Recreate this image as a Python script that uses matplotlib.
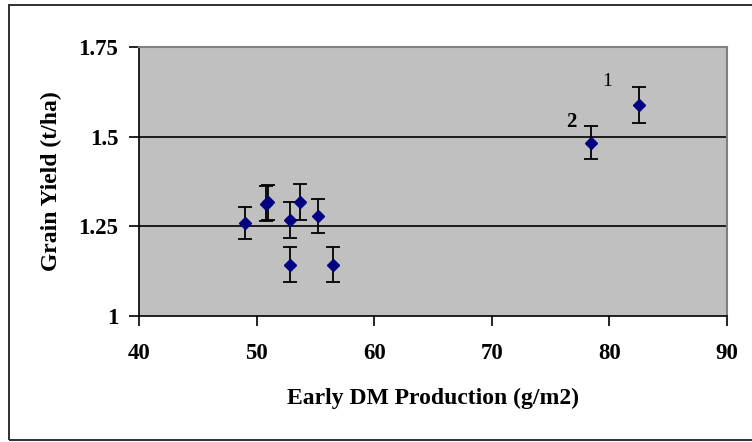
import matplotlib
matplotlib.use("Agg")
import matplotlib.pyplot as plt
from matplotlib.patches import Rectangle

# early DM production (g/m2) vs grain yield (t/ha)
dm = [49.0, 50.8, 50.95, 52.8, 53.7, 55.2, 52.8, 56.5, 78.45, 82.55]
grain = [1.258, 1.313, 1.316, 1.267, 1.318, 1.279, 1.142, 1.142, 1.483, 1.588]
err = [0.045, 0.05, 0.05, 0.049, 0.05, 0.047, 0.049, 0.049, 0.047, 0.05]

plt.rcParams['font.family'] = ['Liberation Serif', 'DejaVu Serif']

fig = plt.figure(figsize=(7.52, 4.42), dpi=100)
fig.patch.set_facecolor('white')

# outer chart frame
fig.patches.append(Rectangle((9/752, 2/442), 1.2, 435/442, transform=fig.transFigure,
                             fill=False, edgecolor='#303030', linewidth=1.4))

ax = fig.add_axes([139.3/752, 1 - 315.7/442, 587.4/752, 268.7/442])
ax.set_facecolor('#c0c0c0')

for yv in [1.25, 1.5]:
    ax.axhline(yv, color='black', linewidth=1.2, zorder=1)

ax.errorbar(dm, grain, yerr=err, fmt='D', color='#000080', ecolor='black',
            markersize=6.5, elinewidth=1.3, capsize=5, capthick=1.3, zorder=3)

ax.text(76.8, 1.542, '2', fontsize=15, fontweight='bold', ha='center', va='center')
ax.text(79.8, 1.655, '1', fontsize=14, ha='center', va='center')

ax.set_xlim(40, 90)
ax.set_ylim(1, 1.75)
ax.set_xticks([40, 50, 60, 70, 80, 90])
ax.set_yticks([1, 1.25, 1.5, 1.75])
ax.set_yticklabels(['1', '1.25', '1.5', '1.75'])

for s in ['top', 'right']:
    ax.spines[s].set_color('#808080')
    ax.spines[s].set_linewidth(1.5)
for s in ['left', 'bottom']:
    ax.spines[s].set_color('black')
    ax.spines[s].set_linewidth(1.2)

ax.tick_params(direction='out', length=7, width=1.2, labelsize=16.5)
ax.tick_params(axis='x', pad=13)
ax.tick_params(axis='y', pad=8)
for lab in ax.get_xticklabels() + ax.get_yticklabels():
    lab.set_fontweight('bold')

ax.set_xlabel('Early DM Production (g/m2)', fontsize=17, fontweight='bold', labelpad=17)
ax.set_ylabel('Grain Yield (t/ha)', fontsize=17, fontweight='bold', labelpad=12)

fig.savefig('out.png', dpi=100)
